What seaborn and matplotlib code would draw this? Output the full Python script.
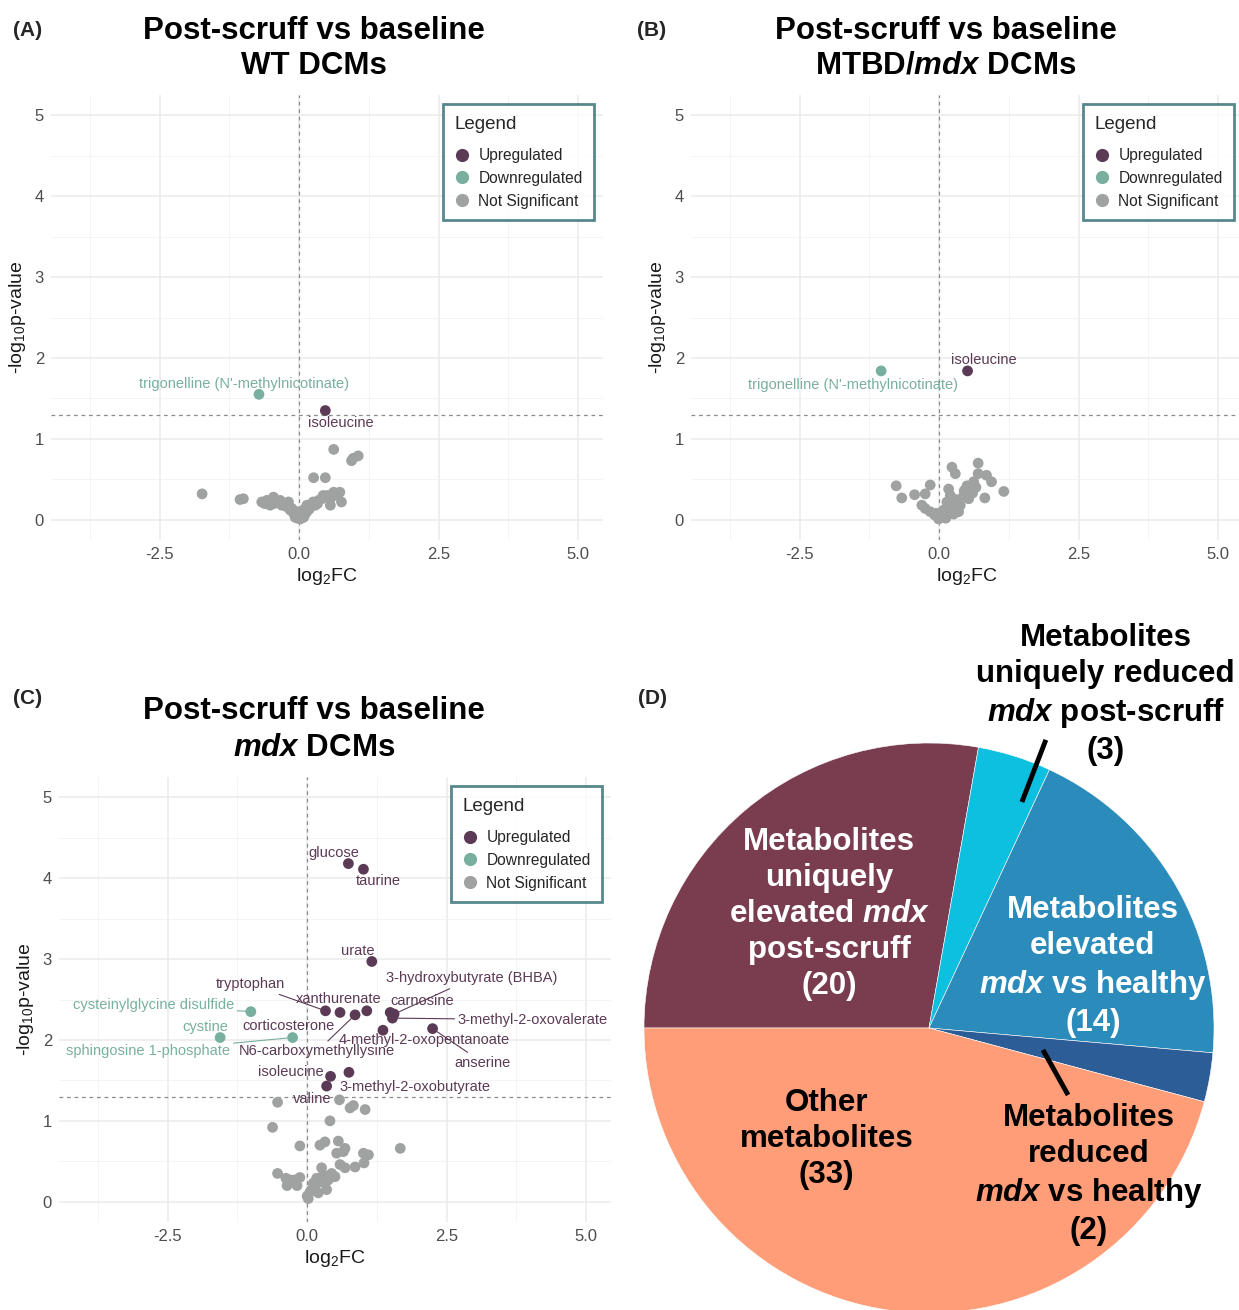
import numpy as np
import pandas as pd
import matplotlib
matplotlib.use("Agg")
import matplotlib.pyplot as plt
from matplotlib.lines import Line2D
import seaborn as sns

# ---------------------------------------------------------------- data
status_order = ["Upregulated", "Downregulated", "Not Significant"]

# (A) WT DCMs: labelled metabolites
a_names = ["trigonelline (N'-methylnicotinate)", "isoleucine"]
a_fc = [-0.72, 0.47]
a_p = [1.55, 1.35]
a_status = ["Downregulated", "Upregulated"]
a_ns_fc = [-1.74, -1.06, -1.00, -0.67, -0.62, -0.58, -0.52, -0.46, -0.45, -0.40,
           -0.34, -0.31, -0.27, -0.22, -0.19, -0.16, -0.13, -0.10, -0.07, -0.04,
           -0.03, 0.00, 0.02, 0.03, 0.05, 0.08, 0.10, 0.11, 0.14, 0.14,
           0.18, 0.20, 0.25, 0.29, 0.33, 0.35, 0.41, 0.43, 0.50, 0.56,
           0.56, 0.62, 0.68, 0.73, 0.76, 0.26, 0.47, 0.62, 0.94, 0.97, 1.06]
a_ns_p = [0.32, 0.25, 0.26, 0.22, 0.20, 0.24, 0.18, 0.28, 0.20, 0.22,
          0.24, 0.18, 0.20, 0.16, 0.22, 0.12, 0.14, 0.08, 0.03, 0.10,
          0.02, 0.05, 0.01, 0.08, 0.11, 0.03, 0.06, 0.14, 0.10, 0.18,
          0.13, 0.16, 0.22, 0.18, 0.20, 0.24, 0.26, 0.30, 0.30, 0.26,
          0.18, 0.34, 0.30, 0.34, 0.22, 0.52, 0.52, 0.87, 0.73, 0.76, 0.79]

# (B) MTBD/mdx DCMs
b_names = ["trigonelline (N'-methylnicotinate)", "isoleucine"]
b_fc = [-1.04, 0.51]
b_p = [1.84, 1.84]
b_status = ["Downregulated", "Upregulated"]
b_ns_fc = [-0.77, -0.67, -0.44, -0.31, -0.25, -0.25, -0.16, -0.16, -0.08, -0.01,
           0.05, 0.11, 0.14, 0.17, 0.20, 0.20, 0.23, 0.26, 0.29, 0.32,
           0.38, 0.44, 0.50, 0.53, 0.56, 0.62, 0.66, 0.70, 0.70, 0.82,
           0.85, 0.94, 1.16, 0.08, 0.30, 0.45, 0.60, 0.35, 0.12, -0.05]
b_ns_p = [0.42, 0.27, 0.31, 0.18, 0.32, 0.14, 0.43, 0.10, 0.06, 0.01,
          0.03, 0.05, 0.22, 0.38, 0.30, 0.14, 0.65, 0.07, 0.57, 0.20,
          0.18, 0.30, 0.42, 0.26, 0.34, 0.47, 0.40, 0.70, 0.57, 0.27,
          0.55, 0.47, 0.35, 0.12, 0.25, 0.36, 0.33, 0.10, 0.02, 0.08]

# (C) mdx DCMs
c_names = ["glucose", "taurine", "urate", "tryptophan", "corticosterone",
           "N6-carboxymethyllysine", "xanthurenate", "carnosine",
           "3-hydroxybutyrate (BHBA)", "3-methyl-2-oxovalerate",
           "4-methyl-2-oxopentanoate", "anserine", "isoleucine",
           "3-methyl-2-oxobutyrate", "valine",
           "cysteinylglycine disulfide", "cystine", "sphingosine 1-phosphate"]
c_fc = [0.74, 1.01, 1.16, 0.33, 0.59, 0.86, 1.07, 1.49, 1.56, 1.53,
        1.36, 2.25, 0.42, 0.75, 0.35, -1.01, -1.56, -0.26]
c_p = [4.18, 4.11, 2.97, 2.36, 2.34, 2.31, 2.36, 2.34, 2.32, 2.27,
       2.12, 2.14, 1.55, 1.60, 1.43, 2.35, 2.03, 2.03]
c_status = ["Upregulated"] * 15 + ["Downregulated"] * 3
c_ns_fc = [-0.53, 0.58, 0.77, 0.83, 1.04, 0.41, -0.62, -0.13, 0.23, 0.32,
           0.56, 0.53, 0.65, 0.68, 1.67, 1.01, 1.10, 0.59, 0.68, 0.86,
           1.02, -0.53, -0.38, -0.30, -0.22, -0.13, -0.36, -0.18, 0.26, 0.29,
           0.44, 0.50, 0.17, 0.11, 0.08, 0.00, 0.20, 0.38, 0.32, 0.05,
           0.14, 0.24, 0.02, 0.35]
c_ns_p = [1.23, 1.26, 1.16, 1.19, 1.14, 1.00, 0.92, 0.69, 0.70, 0.74,
          0.75, 0.60, 0.62, 0.66, 0.66, 0.60, 0.58, 0.46, 0.42, 0.43,
          0.48, 0.35, 0.29, 0.27, 0.27, 0.30, 0.20, 0.20, 0.42, 0.33,
          0.35, 0.31, 0.29, 0.23, 0.15, 0.07, 0.11, 0.27, 0.23, 0.12,
          0.18, 0.25, 0.04, 0.15]

# (D) metabolite classes
pie_labels = ["uniquely elevated mdx post-scruff",
              "uniquely reduced mdx post-scruff",
              "elevated mdx vs healthy",
              "reduced mdx vs healthy",
              "other"]
pie_counts = [20, 3, 14, 2, 33]

# ---------------------------------------------------------------- style
sns.set_theme(style="white")
plt.rcParams["font.family"] = ["Liberation Sans", "DejaVu Sans"]
plt.rcParams["mathtext.fontset"] = "custom"
plt.rcParams["mathtext.rm"] = "Liberation Sans"
plt.rcParams["mathtext.it"] = "Liberation Sans:italic"
plt.rcParams["mathtext.bf"] = "Liberation Sans:bold"
plt.rcParams["mathtext.bfit"] = "Liberation Sans:bold:italic"

palette = {"Upregulated": "#5B3A55", "Downregulated": "#79AF9F",
           "Not Significant": "#A0A2A1"}
pie_colors = ["#7A3D50", "#0DC0DF", "#2B8BBA", "#2C5D96", "#FE9D78"]
legend_edge = "#2D6A70"
W, H = 1239, 1310


def fx(x):
    return x / W


def fy(y):
    return 1 - y / H


def axes_box(left, top, right, bottom):
    return [fx(left), fy(bottom), (right - left) / W, (bottom - top) / H]


def build_frame(fc, p, status, ns_fc, ns_p):
    sig = pd.DataFrame({"log2FC": fc, "p": p, "status": status})
    ns = pd.DataFrame({"log2FC": ns_fc, "p": ns_p,
                       "status": "Not Significant"})
    return pd.concat([ns, sig], ignore_index=True)


def volcano(ax, df):
    sns.scatterplot(data=df, x="log2FC", y="p", hue="status",
                    hue_order=status_order, palette=palette, s=60,
                    linewidth=0, alpha=1, legend=False, ax=ax, zorder=3)
    ax.set_xlim(-4.45, 5.45)
    ax.set_ylim(-0.25, 5.25)
    ax.set_xticks([-2.5, 0, 2.5, 5.0])
    ax.set_xticklabels(["-2.5", "0.0", "2.5", "5.0"])
    ax.set_yticks([0, 1, 2, 3, 4, 5])
    ax.set_xticks([-3.75, -1.25, 1.25, 3.75], minor=True)
    ax.set_yticks(np.arange(0.5, 5.0, 1.0), minor=True)
    ax.grid(which="major", color="#EBEBEB", lw=1.1)
    ax.grid(which="minor", color="#F2F2F2", lw=0.6)
    ax.set_axisbelow(True)
    for s in ax.spines.values():
        s.set_visible(False)
    ax.tick_params(which="both", length=0, labelsize=12, labelcolor="#4D4D4D",
                   pad=5)
    ax.axvline(0, color="#8C8C8C", lw=0.9, ls=(0, (3, 3)), zorder=2)
    ax.axhline(-np.log10(0.05), color="#8C8C8C", lw=0.9, ls=(0, (3, 3)),
               zorder=2)
    ax.set_xlabel("log$_2$FC", fontsize=14, color="#1A1A1A", labelpad=3)
    ax.set_ylabel("-log$_{10}$p-value", fontsize=14, color="#1A1A1A",
                  labelpad=5)
    handles = [Line2D([], [], marker="o", ls="", markersize=9.5,
                      markerfacecolor=palette[k], markeredgewidth=0, label=k)
               for k in status_order]
    leg = ax.legend(handles=handles, title="Legend", loc="upper right",
                    bbox_to_anchor=(0.984, 0.979), borderaxespad=0,
                    frameon=True, fancybox=False, fontsize=11.2,
                    title_fontsize=13.5, alignment="left", handletextpad=0.55,
                    labelspacing=0.5, borderpad=0.74, handlelength=1.0)
    leg._legend_box.sep = 11
    leg.get_frame().set_edgecolor(legend_edge)
    leg.get_frame().set_linewidth(2.0)
    leg.set_zorder(10)


def label_points(ax, names, fc, p, status, offsets, segments=()):
    for n, x, y, st in zip(names, fc, p, status):
        tx, ty = offsets[n]
        col = palette[st]
        if n in segments:
            ax.annotate(n, xy=(x, y), xytext=(tx, ty), ha="center",
                        va="center", fontsize=10.5, color=col, zorder=6,
                        arrowprops=dict(arrowstyle="-", color=col, lw=0.8,
                                        shrinkA=0, shrinkB=3))
        else:
            ax.text(tx, ty, n, ha="center", va="center", fontsize=10.5,
                    color=col, zorder=6)


fig = plt.figure(figsize=(W / 100, H / 100), dpi=100)

# ---------------------------------------------------------------- (A)
axA = fig.add_axes(axes_box(51, 95, 603, 540))
volcano(axA, build_frame(a_fc, a_p, a_status, a_ns_fc, a_ns_p))
label_points(axA, a_names, a_fc, a_p, a_status,
             {"trigonelline (N'-methylnicotinate)": (-0.99, 1.68),
              "isoleucine": (0.74, 1.19)})

# ---------------------------------------------------------------- (B)
axB = fig.add_axes(axes_box(691, 95, 1243, 540))
volcano(axB, build_frame(b_fc, b_p, b_status, b_ns_fc, b_ns_p))
label_points(axB, b_names, b_fc, b_p, b_status,
             {"trigonelline (N'-methylnicotinate)": (-1.54, 1.67),
              "isoleucine": (0.81, 1.98)})

# ---------------------------------------------------------------- (C)
axC = fig.add_axes(axes_box(59, 777, 611, 1222))
volcano(axC, build_frame(c_fc, c_p, c_status, c_ns_fc, c_ns_p))
c_offsets = {
    "glucose": (0.47, 4.31), "taurine": (1.27, 3.96), "urate": (0.90, 3.10),
    "3-hydroxybutyrate (BHBA)": (2.96, 2.76), "tryptophan": (-1.02, 2.69),
    "xanthurenate": (0.56, 2.51), "carnosine": (2.06, 2.48),
    "cysteinylglycine disulfide": (-2.76, 2.43), "cystine": (-1.83, 2.16),
    "corticosterone": (-0.34, 2.17), "3-methyl-2-oxovalerate": (4.05, 2.25),
    "sphingosine 1-phosphate": (-2.85, 1.86),
    "N6-carboxymethyllysine": (0.18, 1.86),
    "4-methyl-2-oxopentanoate": (2.10, 2.00), "anserine": (3.15, 1.72),
    "isoleucine": (-0.29, 1.60), "3-methyl-2-oxobutyrate": (1.94, 1.42),
    "valine": (0.09, 1.27)}
label_points(axC, c_names, c_fc, c_p, c_status, c_offsets,
             segments=("tryptophan", "cysteinylglycine disulfide",
                       "3-hydroxybutyrate (BHBA)", "3-methyl-2-oxovalerate",
                       "sphingosine 1-phosphate", "N6-carboxymethyllysine",
                       "anserine"))

# ---------------------------------------------------------------- titles
title_kw = dict(ha="center", va="center", fontsize=22.5, fontweight="bold",
                color="black")
fig.text(fx(314), fy(31), "Post-scruff vs baseline", **title_kw)
fig.text(fx(314), fy(66), "WT DCMs", **title_kw)
fig.text(fx(946), fy(31), "Post-scruff vs baseline", **title_kw)
fig.text(fx(946), fy(66), r"MTBD/$\mathbfit{mdx}$ DCMs", **title_kw)
fig.text(fx(314), fy(711), "Post-scruff vs baseline", **title_kw)
fig.text(fx(314), fy(748), r"$\mathbfit{mdx}$ DCMs", **title_kw)

tag_kw = dict(ha="center", va="center", fontsize=15, fontweight="bold")
fig.text(fx(28), fy(31), "(A)", **tag_kw)
fig.text(fx(652), fy(31), "(B)", **tag_kw)
fig.text(fx(28), fy(698), "(C)", **tag_kw)
fig.text(fx(652), fy(698), "(D)", **tag_kw)

# ---------------------------------------------------------------- (D) pie
axD = fig.add_axes(axes_box(644, 743, 1214, 1313))
axD.pie(pie_counts, colors=pie_colors, startangle=180, counterclock=False,
        wedgeprops=dict(linewidth=0.4, edgecolor="white"))
axD.set_xlim(-1, 1)
axD.set_ylim(-1, 1)
axD.set_aspect("equal")

pie_kw = dict(ha="center", va="center", fontsize=22.5, fontweight="bold",
              linespacing=1.27)
axD.text(-0.35, 0.40,
         "Metabolites\nuniquely\nelevated $\\mathbfit{mdx}$\npost-scruff\n(20)",
         color="white", **pie_kw)
axD.text(0.575, 0.215,
         "Metabolites\nelevated\n$\\mathbfit{mdx}$ vs healthy\n(14)",
         color="white", **pie_kw)
axD.text(-0.36, -0.39, "Other\nmetabolites\n(33)", color="black", **pie_kw)
axD.text(0.62, 1.17,
         "Metabolites\nuniquely reduced\n$\\mathbfit{mdx}$ post-scruff\n(3)",
         color="black", clip_on=False, **pie_kw)
axD.text(0.56, -0.515,
         "Metabolites\nreduced\n$\\mathbfit{mdx}$ vs healthy\n(2)",
         color="black", clip_on=False, **pie_kw)
axD.plot([0.326, 0.41], [0.793, 1.011], color="black", lw=3.5,
         solid_capstyle="butt", clip_on=False)
axD.plot([0.40, 0.488], [-0.077, -0.235], color="black", lw=3.5,
         solid_capstyle="butt", clip_on=False)

fig.savefig("out.png", dpi=100)
